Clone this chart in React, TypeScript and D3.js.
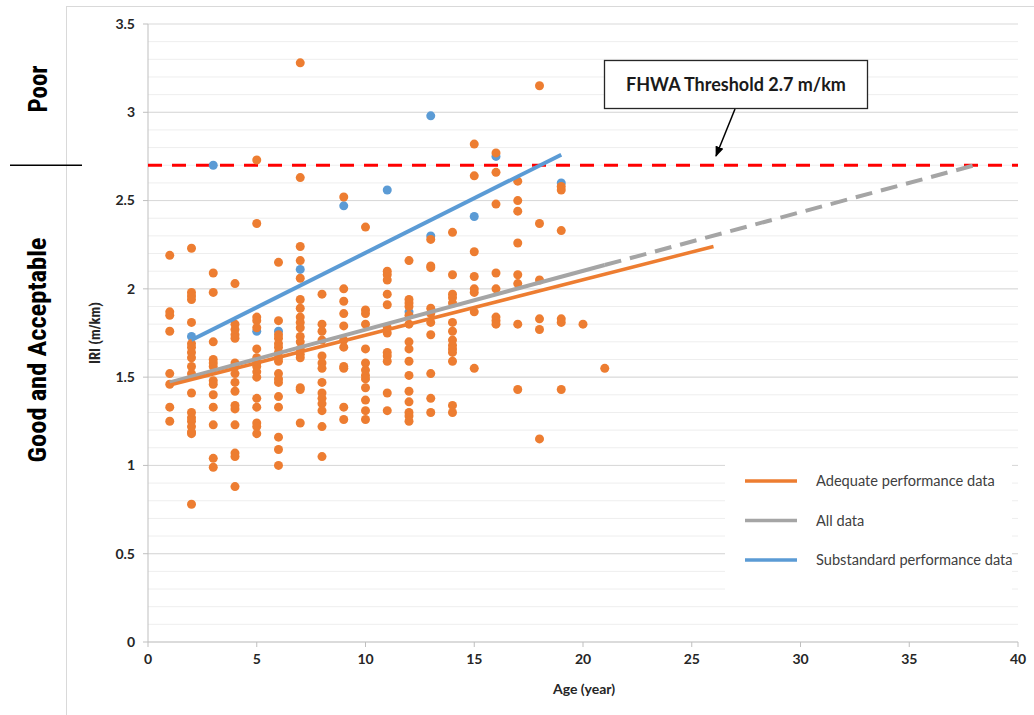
import React from "react";
import * as d3 from "d3";

// IRI observations (m/km) grouped by pavement age (years)
const adequateData: [number, number[]][] = [
  [1, [2.19, 1.87, 1.85, 1.76, 1.52, 1.46, 1.33, 1.25]],
  [2, [2.23, 1.98, 1.96, 1.94, 1.81, 1.69, 1.67, 1.64, 1.61, 1.56, 1.52, 1.41, 1.3, 1.27, 1.25, 1.22, 1.19, 1.18, 0.78]],
  [3, [2.09, 1.98, 1.7, 1.6, 1.58, 1.56, 1.48, 1.46, 1.4, 1.33, 1.23, 1.04, 0.99]],
  [4, [2.03, 1.8, 1.77, 1.74, 1.72, 1.58, 1.56, 1.52, 1.47, 1.42, 1.34, 1.32, 1.23, 1.07, 1.05, 0.88]],
  [5, [2.73, 2.37, 1.84, 1.82, 1.78, 1.66, 1.61, 1.58, 1.56, 1.53, 1.5, 1.38, 1.33, 1.24, 1.22, 1.18]],
  [6, [2.15, 1.82, 1.74, 1.72, 1.69, 1.67, 1.64, 1.61, 1.59, 1.52, 1.49, 1.47, 1.39, 1.33, 1.16, 1.09, 1.0]],
  [7, [3.28, 2.63, 2.24, 2.16, 2.06, 1.94, 1.89, 1.84, 1.81, 1.78, 1.73, 1.7, 1.66, 1.63, 1.61, 1.44, 1.43, 1.24]],
  [8, [1.97, 1.8, 1.76, 1.71, 1.62, 1.58, 1.55, 1.47, 1.41, 1.38, 1.35, 1.31, 1.22, 1.05]],
  [9, [2.52, 2.0, 1.93, 1.86, 1.79, 1.71, 1.67, 1.56, 1.55, 1.33, 1.26]],
  [10, [2.35, 1.88, 1.86, 1.8, 1.66, 1.58, 1.54, 1.51, 1.49, 1.44, 1.37, 1.31, 1.26]],
  [11, [2.1, 2.08, 2.05, 1.97, 1.91, 1.78, 1.75, 1.64, 1.62, 1.59, 1.41, 1.31]],
  [12, [2.16, 1.94, 1.92, 1.9, 1.85, 1.8, 1.7, 1.66, 1.59, 1.51, 1.42, 1.36, 1.3, 1.28, 1.25]],
  [13, [2.28, 2.13, 2.12, 1.89, 1.86, 1.81, 1.74, 1.52, 1.38, 1.3]],
  [14, [2.32, 2.08, 1.97, 1.95, 1.92, 1.81, 1.76, 1.71, 1.68, 1.66, 1.64, 1.59, 1.34, 1.3]],
  [15, [2.82, 2.64, 2.21, 2.07, 2.0, 1.98, 1.87, 1.55]],
  [16, [2.77, 2.66, 2.48, 2.09, 2.0, 1.84, 1.82, 1.8]],
  [17, [2.61, 2.5, 2.44, 2.26, 2.08, 2.03, 1.8, 1.43]],
  [18, [3.15, 2.37, 2.05, 1.83, 1.77, 1.15]],
  [19, [2.58, 2.56, 2.33, 1.83, 1.81, 1.43]],
  [20, [1.8]],
  [21, [1.55]],
];

const substandardData: [number, number][] = [
  [2, 1.73], [3, 2.7], [5, 1.76], [6, 1.76], [7, 2.11], [9, 2.47], [11, 2.56],
  [12, 1.87], [13, 2.3], [13, 2.98], [15, 2.41], [16, 2.75], [19, 2.6],
];

// Linear trend lines (age, IRI) end points
const adequateTrend: [number, number][] = [[1, 1.455], [26, 2.24]];
const allTrendSolid: [number, number][] = [[1, 1.47], [21, 2.135]];
const allTrendForecast: [number, number][] = [[21, 2.135], [38, 2.7]];
const substandardTrend: [number, number][] = [[2, 1.71], [19, 2.76]];

const threshold = 2.7;
const xTicks = [0, 5, 10, 15, 20, 25, 30, 35, 40];
const yTicks = [0, 0.5, 1, 1.5, 2, 2.5, 3, 3.5];
const minorTicks = d3.range(0, 35).map((i) => i / 10);

const legendItems = [
  { label: "Adequate performance data", color: "#ED7D31" },
  { label: "All data", color: "#A5A5A5" },
  { label: "Substandard performance data", color: "#5B9BD5" },
];

const ORANGE = "#ED7D31";
const BLUE = "#5B9BD5";
const GRAY = "#A5A5A5";
const FONT = "Lato, 'Open Sans', sans-serif";
const NARROW = "'Liberation Sans Narrow', 'Arial Narrow', 'Roboto Condensed', Roboto, sans-serif";

export default function App() {
  const W = 1034;
  const H = 715;
  const left = 148, right = 1018, top = 24, bottom = 642;
  const x = d3.scaleLinear().domain([0, 40]).range([left, right]);
  const y = d3.scaleLinear().domain([0, 3.5]).range([bottom, top]);
  const line = d3.line<[number, number]>().x((d) => x(d[0])).y((d) => y(d[1]));

  const legend = { x0: 725, x1: 1012, y0: 456, y1: 598 };

  const adequatePoints: [number, number][] = adequateData.flatMap(([age, vals]) =>
    vals.map((v) => [age, v] as [number, number])
  );

  return (
    <svg width={W} height={H} style={{ position: "absolute", left: 0, top: 0, background: "#fff" }}>
      {/* chart frame */}
      <rect x={66.5} y={6.5} width={W} height={H} fill="none" stroke="#d9d9d9" strokeWidth={1} />

      {/* minor grid */}
      {minorTicks.map((t) => (
        <line key={"m" + t} x1={left} x2={right} y1={y(t)} y2={y(t)} stroke="#eeeeee" strokeWidth={1} />
      ))}
      {/* major grid */}
      {yTicks.slice(1).map((t) => (
        <line key={"g" + t} x1={left} x2={right} y1={y(t)} y2={y(t)} stroke="#d9d9d9" strokeWidth={1} />
      ))}

      {/* legend background */}
      <rect x={legend.x0} y={legend.y0} width={legend.x1 - legend.x0} height={legend.y1 - legend.y0} fill="#fff" />

      {/* axes */}
      <line x1={left} x2={left} y1={top} y2={bottom} stroke="#bfbfbf" />
      <line x1={left} x2={right} y1={bottom} y2={bottom} stroke="#bfbfbf" />
      {yTicks.map((t) => (
        <g key={"yt" + t}>
          <line x1={left - 5} x2={left} y1={y(t)} y2={y(t)} stroke="#bfbfbf" />
          <text x={left - 13} y={y(t)} dy="0.35em" textAnchor="end" fontFamily={FONT} fontWeight={700} fontSize={14} fill="#262626">
            {t}
          </text>
        </g>
      ))}
      {xTicks.map((t) => (
        <g key={"xt" + t}>
          <line x1={x(t)} x2={x(t)} y1={bottom} y2={bottom + 5} stroke="#bfbfbf" />
          <text x={x(t)} y={bottom + 22} textAnchor="middle" fontFamily={FONT} fontWeight={700} fontSize={14} fill="#262626">
            {t}
          </text>
        </g>
      ))}

      {/* axis titles */}
      <text x={584} y={694} textAnchor="middle" fontFamily={FONT} fontWeight={700} fontSize={14} fill="#262626">
        Age (year)
      </text>
      <text transform={`translate(100,333) rotate(-90)`} textAnchor="middle" fontFamily={NARROW} fontWeight={700} fontSize={14.5} fill="#262626">
        IRI (m/km)
      </text>

      {/* threshold */}
      <line x1={left} x2={right} y1={y(threshold)} y2={y(threshold)} stroke="#FF0000" strokeWidth={3} strokeDasharray="14 10" />

      {/* scatter */}
      {substandardData.map((d, i) => (
        <circle key={"b" + i} cx={x(d[0])} cy={y(d[1])} r={4.5} fill={BLUE} />
      ))}
      {adequatePoints.map((d, i) => (
        <circle key={"o" + i} cx={x(d[0])} cy={y(d[1])} r={4.5} fill={ORANGE} />
      ))}

      {/* trend lines */}
      <path d={line(allTrendSolid) ?? ""} fill="none" stroke={GRAY} strokeWidth={4} />
      <path d={line(allTrendForecast) ?? ""} fill="none" stroke={GRAY} strokeWidth={4} strokeDasharray="17 9" />
      <path d={line(adequateTrend) ?? ""} fill="none" stroke={ORANGE} strokeWidth={3.5} />
      <path d={line(substandardTrend) ?? ""} fill="none" stroke={BLUE} strokeWidth={4} />

      {/* legend */}
      {legendItems.map((item, i) => {
        const ly = 481 + i * 39.5;
        return (
          <g key={item.label}>
            <line x1={745} x2={797} y1={ly} y2={ly} stroke={item.color} strokeWidth={3.5} />
            <text x={816} y={ly} dy="0.35em" fontFamily={FONT} fontSize={14.6} fill="#404040">
              {item.label}
            </text>
          </g>
        );
      })}

      {/* annotation */}
      <defs>
        <marker id="arrowhead" viewBox="0 0 10 10" refX={9} refY={5} markerWidth={7} markerHeight={7} orient="auto">
          <path d="M0,1 L10,5 L0,9 z" fill="#000" />
        </marker>
      </defs>
      <rect x={604.5} y={60.5} width={263} height={48} fill="#fff" stroke="#262626" strokeWidth={1.3} />
      <text x={736} y={85} dy="0.35em" textAnchor="middle" fontFamily={FONT} fontWeight={700} fontSize={18} fill="#1a1a1a">
        FHWA Threshold 2.7 m/km
      </text>
      <line x1={735} y1={109} x2={716} y2={156} stroke="#000" strokeWidth={1.5} markerEnd="url(#arrowhead)" />

      {/* condition bands */}
      <line x1={10} x2={82} y1={y(threshold)} y2={y(threshold)} stroke="#000" strokeWidth={1.5} />
      <text transform={`translate(47,89) rotate(-90)`} textAnchor="middle" fontFamily={NARROW} fontWeight={700} fontSize={25} fill="#000">
        Poor
      </text>
      <text transform={`translate(46,350) rotate(-90)`} textAnchor="middle" fontFamily={NARROW} fontWeight={700} fontSize={26.5} fill="#000">
        Good and Acceptable
      </text>
    </svg>
  );
}
